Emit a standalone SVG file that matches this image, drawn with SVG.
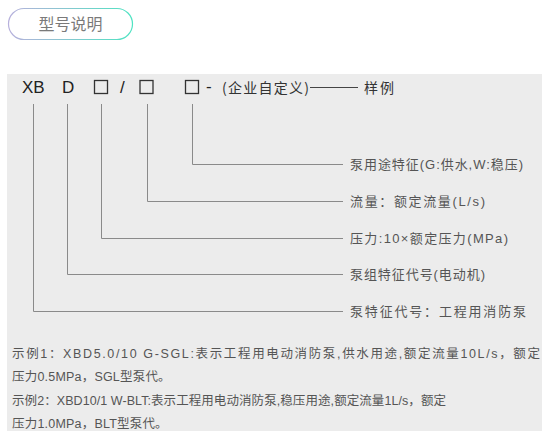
<svg xmlns="http://www.w3.org/2000/svg" width="545" height="436" viewBox="0 0 545 436">
<defs>
<linearGradient id="pillg" x1="0" y1="0" x2="1" y2="0">
<stop offset="0" stop-color="#b7b0dc"/>
<stop offset="1" stop-color="#4fe3c2"/>
</linearGradient>
<style>
.hd{font-family:"Liberation Sans","Noto Sans CJK SC",sans-serif;font-size:17px;fill:#222}
.cj{font-family:"Noto Sans CJK SC","Liberation Sans",sans-serif;font-size:14px;fill:#333}
.lb{font-family:"Liberation Sans","Noto Sans CJK SC",sans-serif;font-size:13px;fill:#555}
.bt{font-family:"Liberation Sans","Noto Sans CJK SC",sans-serif;font-size:12.5px;fill:#555}
.box{fill:none;stroke:#333;stroke-width:1.3}
.ln{fill:none;stroke:#8a8a8a;stroke-width:1}
</style>
</defs>
<rect x="0" y="0" width="545" height="436" fill="#ffffff"/>
<g id="title">
<rect x="8.5" y="8.5" width="124" height="31" rx="15.5" fill="#fff" stroke="url(#pillg)" stroke-width="1.2"/>
<text x="70.5" y="29.5" text-anchor="middle" font-family="Noto Sans CJK SC, sans-serif" font-size="16" fill="#7a7a7a">型号说明</text>
</g>
<rect id="panel" x="7" y="74" width="535" height="357" fill="#ececec"/>
<g id="header">
<text class="hd" x="22" y="93">XB</text>
<text class="hd" x="62" y="93">D</text>
<rect class="box" x="94.5" y="80.5" width="13" height="13"/>
<text class="hd" x="120" y="93" font-size="15" fill="#444">/</text>
<rect class="box" x="140" y="80.5" width="13" height="13"/>
<rect class="box" x="185.5" y="80.5" width="13" height="13"/>
<text class="hd" x="206" y="92" font-size="15">-</text>
<text class="cj" x="222" y="93" textLength="87" lengthAdjust="spacing">(企业自定义)</text>
<line x1="310" y1="87.5" x2="358" y2="87.5" stroke="#444" stroke-width="1"/>
<text class="cj" x="364" y="93" textLength="30" lengthAdjust="spacing">样例</text>
</g>
<g id="connectors">
<path class="ln" d="M192.5 104V164.5H343"/>
<path class="ln" d="M147.5 104V201.5H343"/>
<path class="ln" d="M101.5 104V238.5H343"/>
<path class="ln" d="M67.5 104V274.5H343"/>
<path class="ln" d="M33.5 104V311.5H343"/>
</g>
<g id="label-usage"><text class="lb" x="350" y="169" textLength="173" lengthAdjust="spacing">泵用途特征(G:供水,W:稳压)</text></g>
<g id="label-flow"><text class="lb" x="350" y="206" textLength="135" lengthAdjust="spacing">流量：额定流量(L/s)</text></g>
<g id="label-pressure"><text class="lb" x="350" y="243" textLength="158" lengthAdjust="spacing">压力:10×额定压力(MPa)</text></g>
<g id="label-unit"><text class="lb" x="350" y="279" textLength="135" lengthAdjust="spacing">泵组特征代号(电动机)</text></g>
<g id="label-code"><text class="lb" x="350" y="316" textLength="176" lengthAdjust="spacing">泵特征代号：工程用消防泵</text></g>
<g id="examples">
<text class="bt" x="12" y="357.5" textLength="528" lengthAdjust="spacing">示例1：XBD5.0/10 G-SGL:表示工程用电动消防泵,供水用途,额定流量10L/s，额定</text>
<text class="bt" x="12" y="381" letter-spacing="0.2">压力0.5MPa，SGL型泵代。</text>
<text class="bt" x="12" y="404.5" textLength="434" lengthAdjust="spacing">示例2：XBD10/1 W-BLT:表示工程用电动消防泵,稳压用途,额定流量1L/s，额定</text>
<text class="bt" x="12" y="427.5" letter-spacing="0.2">压力1.0MPa，BLT型泵代。</text>
</g>
</svg>
